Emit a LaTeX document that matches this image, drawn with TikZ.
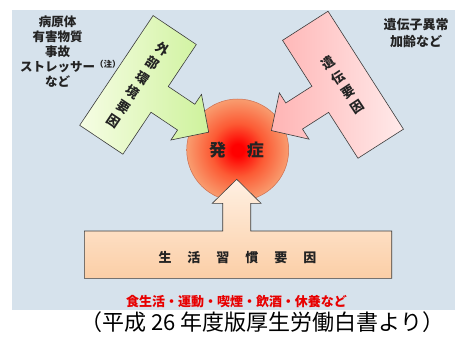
\documentclass[tikz,border=0pt]{standalone}
\usepackage{fontspec}
\usepackage{tikz}
\usetikzlibrary{positioning,shadings}
\newfontfamily\jp{Noto Sans CJK JP}
\definecolor{dfpanel}{RGB}{214,226,236}
\definecolor{dfline}{RGB}{60,60,60}
\definecolor{dftext}{RGB}{35,35,35}
\definecolor{dfgreenlight}{RGB}{246,253,228}
\definecolor{dfgreen}{RGB}{206,242,156}
\definecolor{dfpinklight}{RGB}{255,234,234}
\definecolor{dfpink}{RGB}{255,180,180}
\definecolor{dfpeachlight}{RGB}{255,240,226}
\definecolor{dfpeach}{RGB}{251,206,166}
\definecolor{dfred}{RGB}{232,0,0}
\definecolor{dfcore}{RGB}{255,0,0}
\definecolor{dfmid}{RGB}{252,90,52}
\definecolor{dfrim}{RGB}{248,162,116}
\definecolor{dfrimline}{RGB}{205,110,80}
\tikzstyle{factor} = [draw=dfline, line width=0.6pt, line join=miter]
\tikzstyle{vlabel} = [font=\jp\bfseries\fontsize{13}{17.5}\selectfont, align=center, text=dftext, inner sep=0pt]
\tikzstyle{note} = [font=\jp\bfseries\fontsize{12.5}{15}\selectfont, align=center, text=dftext, inner sep=0pt]
\pgfdeclareradialshading{onset}{\pgfpoint{0bp}{0bp}}{color(0bp)=(dfcore); color(3bp)=(dfcore); color(13bp)=(dfmid); color(26bp)=(dfrim); color(50bp)=(dfrim)}

\begin{document}
\begin{tikzpicture}[x=1pt,y=1pt]
\useasboundingbox (0,0) rectangle (461,338);
\fill[dfpanel] (12,28.5) rectangle (455,328);

% Onset
\coordinate (core) at (237.7,188);
\shade[shading=onset] (core) circle (51pt);
\draw[dfrimline, line width=0.5pt] (core) circle (51pt);

% External factors
\begin{scope}[shift={(138,253.1)}, rotate=-33.8]
\shade[factor, left color=dfgreenlight, right color=dfgreen] (-26,66) -- (26,66) -- (26,15.5) -- (58,15.5) -- (58,27.5) -- (85,0) -- (58,-27.5) -- (58,-15.5) -- (26,-15.5) -- (26,-66) -- (-26,-66) -- cycle;
\end{scope}
\node (external) [vlabel, rotate=-33.8] at (138,253.1) {外\\部\\環\\境\\要\\因};

% Genetic factors
\begin{scope}[shift={(343,253.25)}, rotate=-147.4]
\shade[factor, left color=dfpink, right color=dfpinklight] (-27,70) -- (27,70) -- (27,15.5) -- (58,15.5) -- (58,27.5) -- (85,0) -- (58,-27.5) -- (58,-15.5) -- (27,-15.5) -- (27,-70) -- (-27,-70) -- cycle;
\end{scope}
\node (genetic) [vlabel, rotate=33.5] at (343,253.25) {遺\\伝\\要\\因};

% Lifestyle factors
\shade[factor, top color=dfpeachlight, bottom color=dfpeach] (84.3,59.7) -- (84.3,107) -- (222.7,107) -- (222.7,134.7) -- (212.3,134.7) -- (236.7,158.7) -- (261,134.7) -- (250.7,134.7) -- (250.7,107) -- (391.7,107) -- (391.7,59.7) -- cycle;
\node (lifestyle) [font=\jp\bfseries\fontsize{13}{13}\selectfont, text=dftext] at (237.5,80) {生\hspace{16pt}活\hspace{16pt}習\hspace{16pt}慣\hspace{16pt}要\hspace{16pt}因};

\node (onset) [font=\jp\bfseries\fontsize{17}{17}\selectfont, text=dftext] at (236.5,188) {発\hspace{21pt}症};

% Notes
\node (pathogens) [note] at (57.5,286.3) {病原体\\有害物質\\事故\\ストレッサー\rlap{\raisebox{4pt}{\fontsize{8.5}{8.5}\selectfont （注）}}\\など};
\node (ageing) [note, font=\jp\bfseries\fontsize{13}{16.7}\selectfont] at (416,304.7) {遺伝子異常\\加齢など};
\node (habits) [font=\jp\bfseries\fontsize{13}{13}\selectfont, text=dfred] at (236.5,36) {食生活・運動・喫煙・飲酒・休養など};
\node (source) [font=\jp\fontsize{22}{22}\selectfont] at (262.5,16) {（平成 26 年度版厚生労働白書より）};
\end{tikzpicture}
\end{document}
